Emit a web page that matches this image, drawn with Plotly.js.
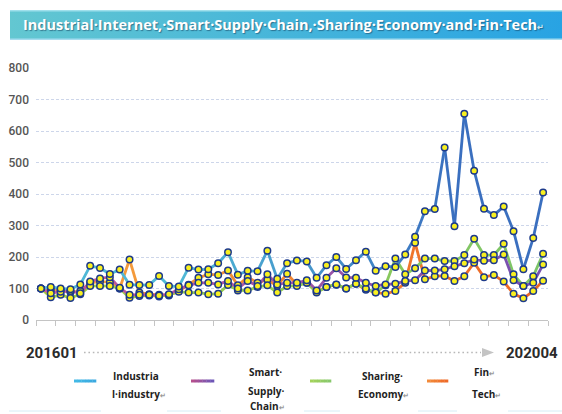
<!DOCTYPE html>
<html><head><meta charset="utf-8">
<script src="https://cdn.plot.ly/plotly-3.0.1.min.js"></script>
<style>html,body{margin:0;padding:0;background:#fff}#chart{width:562px;height:414px}</style>
</head><body><div id="chart"></div>
<script>
// ---- data ----
const months = ['201601','201602','201603','201604','201605','201606','201607','201608','201609','201610','201611','201612',
 '201701','201702','201703','201704','201705','201706','201707','201708','201709','201710','201711','201712',
 '201801','201802','201803','201804','201805','201806','201807','201808','201809','201810','201811','201812',
 '201901','201902','201903','201904','201905','201906','201907','201908','201909','201910','201911','201912',
 '202001','202002','202003','202004'];
const industrialInternet = [100,105,100,98,113,172,165,146,160,112,111,111,140,108,106,166,160,161,180,215,144,156,155,220,131,180,189,186,134,174,200,162,190,217,156,171,168,208,264,345,352,548,298,655,474,353,333,360,282,161,260,405];
const smartSupplyChain = [100,85,90,92,85,122,132,136,102,80,80,80,78,82,98,110,118,118,113,124,100,124,108,145,113,118,118,126,94,134,164,135,134,118,108,113,115,124,126,157,157,161,171,180,192,188,190,208,126,108,118,176];
const sharingEconomy = [100,72,80,70,82,108,108,108,100,71,76,78,75,80,90,87,87,82,83,111,94,94,105,110,87,108,108,118,87,105,113,100,115,100,87,110,195,145,164,195,195,187,187,206,258,206,206,242,145,108,139,210];
const finTech = [100,95,95,88,92,118,122,120,100,192,87,82,80,78,92,112,134,145,143,157,110,136,118,128,108,147,112,118,90,105,112,100,115,96,88,83,92,118,245,129,139,140,124,139,182,136,143,122,83,69,92,125];
const titleText = 'Industrial\u00B7Internet,\u00B7Smart\u00B7Supply\u00B7Chain,\u00B7Sharing\u00B7Economy\u00B7and\u00B7Fin\u00B7Tech';
const startLabel = '201601', endLabel = '202004';

// ---- styling ----
const L = 36, R = 14, T = 68, B = 94, W = 562, H = 414;
const PW = W - L - R, PH = H - T - B;
const px = x => (x - L) / PW;
const py = y => (H - B - y) / PH;

function hex2rgb(h){h=h.replace('#','');return [0,2,4].map(i=>parseInt(h.substr(i,2),16));}
function lerp(a,b,t){const A=hex2rgb(a),C=hex2rgb(b);return 'rgb('+A.map((v,i)=>Math.round(v+(C[i]-v)*t)).join(',')+')';}
const clamp = v => Math.max(0, Math.min(1, v));

const series = [
  {name:'Fin Tech', y: finTech, c0:'#f6a640', c1:'#ec6424', t0:0, t1:51, lab:'#f39a55', ly:276},
  {name:'Sharing Economy', y: sharingEconomy, c0:'#a3d040', c1:'#7cc46a', t0:0, t1:51, lab:'#8fc85c', ly:225},
  {name:'Smart Supply Chain', y: smartSupplyChain, c0:'#c8589c', c1:'#7450b0', t0:0, t1:51, lab:'#9b6dc4', ly:243},
  {name:'Industrial Internet', y: industrialInternet, c0:'#4fb8d6', c1:'#3a6fbf', t0:14, t1:42, lab:'#59b7e8', ly:177}
];

const traces = [];
series.forEach(s => {
  for (let i = 0; i < months.length - 1; i++) {
    const t = clamp(((i + 0.5) - s.t0) / (s.t1 - s.t0));
    traces.push({x:[months[i], months[i+1]], y:[s.y[i], s.y[i+1]], type:'scatter', mode:'lines',
      line:{color: lerp(s.c0, s.c1, t), width: 2.8}, hoverinfo:'skip', showlegend:false});
  }
});
series.forEach(s => {
  traces.push({x: months, y: s.y, type:'scatter', mode:'markers', name: s.name, showlegend:false,
    marker:{symbol:'circle', size:6.5, color:'#f8f020', line:{color:'#1d3a8a', width:1.5}}});
});

const shapes = [];
const annotations = [];
const images = [];

// title bar (gradient)
const svg = "<svg xmlns='http://www.w3.org/2000/svg' width='552' height='30' preserveAspectRatio='none'><defs><linearGradient id='g' x1='0' x2='1' y1='0' y2='0'><stop offset='0' stop-color='#63c7d1'/><stop offset='1' stop-color='#28a3e3'/></linearGradient></defs><rect width='552' height='30' fill='url(#g)'/><rect x='0' y='0' width='552' height='1.5' fill='#9fe0ec'/><rect x='0' y='28.5' width='552' height='1.5' fill='#a6dcef'/></svg>";
images.push({source:'data:image/svg+xml;charset=utf-8,' + encodeURIComponent(svg), xref:'paper', yref:'paper',
  x: px(10), y: py(10), sizex: (W - 10) / PW, sizey: 30 / PH, xanchor:'left', yanchor:'top', sizing:'stretch', layer:'below'});
annotations.push({text: titleText + '<span style="font-size:8px;color:#d0e8f0">\u21B5</span>', xref:'paper', yref:'paper', x: px(21), y: py(25),
  xanchor:'left', yanchor:'middle', showarrow:false,
  font:{family:'Open Sans', size:14.5, color:'#ffffff', weight:700, shadow:'1px 1px 1px rgba(20,60,90,0.55)'}});

// end value labels
series.forEach(s => {
  annotations.push({text: String(s.y[s.y.length - 1]), xref:'x', yref:'paper', x: months[months.length - 1], y: py(s.ly),
    xanchor:'left', yanchor:'middle', xshift: -1, showarrow:false, font:{family:'Roboto', size:12, color: s.lab}});
});

// time arrow
annotations.push({text: startLabel, xref:'paper', yref:'paper', x: px(24), y: py(353), xanchor:'left', yanchor:'middle', showarrow:false,
  font:{family:'Roboto', size:15, color:'#2b2b2b', weight:700}});
annotations.push({text: endLabel, xref:'paper', yref:'paper', x: px(504), y: py(353), xanchor:'left', yanchor:'middle', showarrow:false,
  font:{family:'Roboto', size:15, color:'#2b2b2b', weight:700}});
shapes.push({type:'line', xref:'paper', yref:'paper', x0: px(84), x1: px(481), y0: py(352.5), y1: py(352.5),
  line:{color:'#b8b8b8', width:1.6, dash:'1.6px,2.8px'}});
shapes.push({type:'path', xref:'paper', yref:'paper',
  path: 'M '+px(482)+' '+py(348)+' L '+px(494)+' '+py(352.5)+' L '+px(482)+' '+py(357)+' Z',
  fillcolor:'#c4c4c4', line:{width:0}});

// legend
const legend = [
  {x0:74, x1:96, c0:'#42b9e6', c1:'#3aa9e0', lines:[['Industria',111,376],['l\u00B7industry',110,394,true]]},
  {x0:191, x1:214, c0:'#b4508e', c1:'#6e56b6', lines:[['Smart\u00B7',247,372],['Supply\u00B7',246,391],['Chain',248,406,true]]},
  {x0:310, x1:331, c0:'#a2d25a', c1:'#88c86c', lines:[['Sharing\u00B7',360,376],['Economy',356,394,true]]},
  {x0:427, x1:448, c0:'#f28a3a', c1:'#ee6a28', lines:[['Fin',472,372,true],['Tech',470,394,true]]}
];
legend.forEach(g => {
  const n = 6, step = (g.x1 - g.x0) / n;
  for (let k = 0; k < n; k++) {
    shapes.push({type:'line', xref:'paper', yref:'paper', x0: px(g.x0 + k*step), x1: px(g.x0 + (k+1)*step + 0.3), y0: py(381), y1: py(381),
      line:{color: lerp(g.c0, g.c1, k/(n-1)), width:3}});
  }
  g.lines.forEach(l => {
    annotations.push({text: l[0] + (l[3] ? '<span style="font-size:7px;color:#9a9a9a">\u21B5</span>' : ''), xref:'paper', yref:'paper',
      x: px(l[1]), y: py(l[2]), xanchor:'left', yanchor:'middle', showarrow:false,
      font:{family:'Open Sans', size:10, color:'#1e1e1e', weight:700}});
  });
});
// faint table borders
[[9,101],[167,221],[304,340],[418,457],[508,562]].forEach(s => {
  shapes.push({type:'line', xref:'paper', yref:'paper', x0: px(s[0]), x1: px(s[1]), y0: py(411), y1: py(411),
    line:{color:'#d6edf6', width:1}});
});

const layout = {
  width: W, height: H, margin:{l:L, r:R, t:T, b:B, pad:0},
  paper_bgcolor:'#ffffff', plot_bgcolor:'#ffffff', showlegend:false,
  xaxis:{type:'category', range:[-0.5, months.length - 0.5], showgrid:false, zeroline:false,
    showline:true, linecolor:'#c4c4c4', linewidth:1, ticks:'outside', tickson:'boundaries', ticklen:5, tickcolor:'#c4c4c4',
    showticklabels:false, fixedrange:true},
  yaxis:{range:[0, 800], tickvals:[0,100,200,300,400,500,600,700,800], showgrid:true, gridcolor:'#cdd6ea', griddash:'3px,2px', gridwidth:1,
    zeroline:false, showline:false, ticks:'', ticklabelstandoff:6,
    tickfont:{family:'Roboto', size:12, color:'#555555', weight:500}, fixedrange:true},
  shapes: shapes, annotations: annotations, images: images
};
Plotly.newPlot('chart', traces, layout, {displayModeBar:false, staticPlot:true});
</script></body></html>
